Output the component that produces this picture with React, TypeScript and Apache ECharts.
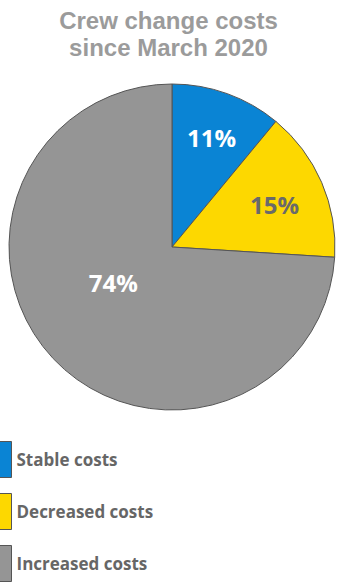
import React, { useEffect, useRef } from "react";
import * as echarts from "echarts";

const categories = ["Stable costs", "Decreased costs", "Increased costs"];
const values = [11, 15, 74];
const colors = ["#0a84d4", "#fdd800", "#959595"];
const labelColors = ["#ffffff", "#6a6a6a", "#ffffff"];
const titleLines = ["Crew change costs", "since March 2020"];
const labelShift = [
  [11, -30],
  [25, -9],
  [3, -22],
];

export default function App() {
  const ref = useRef<HTMLDivElement>(null);
  useEffect(() => {
    document.body.style.margin = "0";
    const chart = echarts.init(ref.current!, null, { renderer: "svg" });
    const font = "'Open Sans', Lato, sans-serif";
    const titleStyle = {
      fontFamily: "'Liberation Sans', Arial, sans-serif",
      fontSize: 24,
      fontWeight: "bold",
      color: "#9b9b9b",
    };
    chart.setOption({
      animation: false,
      title: titleLines.map((t, i) => ({
        text: t,
        left: "center",
        top: 8 + i * 27,
        padding: 0,
        textStyle: titleStyle,
      })),
      legend: {
        orient: "vertical",
        left: -25,
        top: 441,
        bottom: 0,
        padding: 0,
        itemWidth: 36,
        itemHeight: 36,
        itemGap: 15,
        icon: "rect",
        itemStyle: { borderColor: "#555", borderWidth: 1 },
        textStyle: {
          fontFamily: font,
          fontSize: 17,
          fontWeight: "bold",
          color: "#666",
        },
        data: categories,
      },
      series: [
        {
          type: "pie",
          center: [172, 247],
          radius: 163,
          startAngle: 90,
          clockwise: true,
          itemStyle: { borderColor: "#555", borderWidth: 1 },
          label: {
            show: true,
            position: "inside",
            formatter: "{c}%",
            fontFamily: font,
            fontSize: 24,
            fontWeight: "bold",
          },
          labelLayout: (p: any) => ({
            dx: labelShift[p.dataIndex][0],
            dy: labelShift[p.dataIndex][1],
          }),
          emphasis: { disabled: true },
          data: categories.map((name, i) => ({
            name,
            value: values[i],
            itemStyle: { color: colors[i] },
            label: { color: labelColors[i] },
          })),
        },
      ],
    });
    return () => chart.dispose();
  }, []);
  return (
    <div
      ref={ref}
      style={{ width: 337, height: 585, position: "absolute", left: 0, top: 0 }}
    />
  );
}
